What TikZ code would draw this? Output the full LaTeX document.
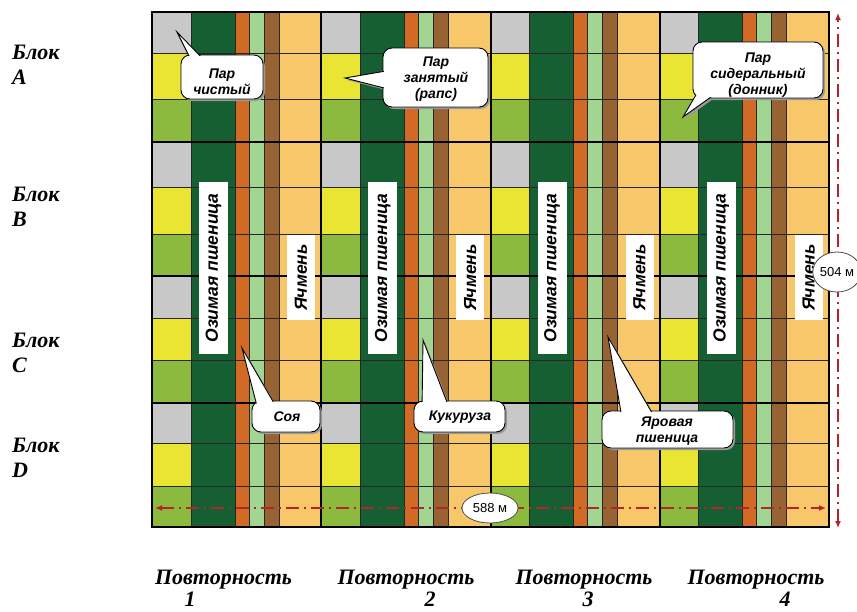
\documentclass[tikz,border=0pt]{standalone}
\usepackage{fontspec}
\setmainfont{Liberation Serif}
\setsansfont{Liberation Sans}
\usetikzlibrary{arrows.meta,shapes.geometric}
\definecolor{cgray}{HTML}{C8C8C8}
\definecolor{cyellow}{HTML}{EAE533}
\definecolor{cygreen}{HTML}{8CBA3E}
\definecolor{cdgreen}{HTML}{155F32}
\definecolor{corange}{HTML}{D06A24}
\definecolor{clgreen}{HTML}{A3D592}
\definecolor{cbrown}{HTML}{986332}
\definecolor{clorange}{HTML}{F8C76A}
\definecolor{dimred}{HTML}{B3242C}
\definecolor{shadowc}{HTML}{9A9A9A}
\tikzset{
 gridthin/.style={draw=black!85, line width=0.9pt},
 gridthick/.style={draw=black, line width=2pt},
 collabel/.style={rotate=90, fill=white, inner sep=0pt, font=\fontsize{17.5}{17.5}\selectfont\sffamily\bfseries\itshape},
 bubblebox/.style={draw=black, line width=0.9pt, fill=white, rounded corners=9pt, inner sep=0pt},
 bubline/.style={draw=black, line width=0.9pt},
 btext/.style={align=center, inner sep=0pt, font=\fontsize{14}{16}\selectfont\sffamily\bfseries\itshape},
 blk/.style={anchor=base west, inner sep=0pt, font=\fontsize{22}{22}\selectfont\bfseries\itshape},
 replab/.style={anchor=base, inner sep=0pt, font=\fontsize{22}{22}\selectfont\bfseries\itshape},
 dimline/.style={draw=dimred, line width=1.8pt, dash pattern=on 13pt off 5pt on 2pt off 5pt},
 dimlabel/.style={ellipse, draw=black!70, line width=0.8pt, fill=white, inner sep=0pt, font=\fontsize{13}{13}\selectfont\sffamily},
}
% #1 name, #2 x1, #3 y1, #4 x2, #5 y2, #6 tip, #7 base1, #8 base2
\newcommand{\callout}[8]{%
  \coordinate (#1tip) at (#6);
  \coordinate (#1ba) at (#7);
  \coordinate (#1bb) at (#8);
  \fill[shadowc, rounded corners=9pt] ({#2+2},{#3+2}) rectangle ({#4+2},{#5+2});
  \fill[shadowc] ([xshift=2pt,yshift=-2pt]#1tip) -- ([xshift=2pt,yshift=-2pt]#1ba) -- ([xshift=2pt,yshift=-2pt]#1bb) -- cycle;
  \node[bubblebox, minimum width={(#4-#2)*1pt}, minimum height={(#5-#3)*1pt}] (#1) at ({(#2+#4)/2},{(#3+#5)/2}) {};
  \fill[white] (#1ba) -- (#1tip) -- (#1bb) -- cycle;
  \draw[bubline] (#1ba) -- (#1tip) -- (#1bb);
  \fill[white, rounded corners=8pt] ({#2+1},{#3+1}) rectangle ({#4-1},{#5-1});
}
\begin{document}
\begin{tikzpicture}[x=1pt,y=-1pt]
\useasboundingbox (0,0) rectangle (857,611);
\fill[white] (0,0) rectangle (857,611);
% field grid
\foreach \r in {152,321.25,490.5,659.75}{
  \foreach \ya/\yb/\yc/\yd in {12/53/99/142,142/187/234/276,276/318/360/403,403/443/486/527}{
    \fill[cgray] (\r,\ya) rectangle ({\r+39},\yb);
    \fill[cyellow] (\r,\yb) rectangle ({\r+39},\yc);
    \fill[cygreen] (\r,\yc) rectangle ({\r+39},\yd);
  }
  \fill[cdgreen] ({\r+39},12) rectangle ({\r+83},527);
  \fill[corange] ({\r+83},12) rectangle ({\r+97},527);
  \fill[clgreen] ({\r+97},12) rectangle ({\r+112},527);
  \fill[cbrown] ({\r+112},12) rectangle ({\r+127},527);
  \fill[clorange] ({\r+127},12) rectangle ({\r+169.25},527);
  \foreach \c in {39,83,97,112,127}{\draw[gridthin] ({\r+\c},12) -- ({\r+\c},527);}
}
\foreach \y in {53,99,187,234,318,360,443,486}{\draw[gridthin] (152,\y) -- (829,\y);}
\foreach \y in {142,276,403}{\draw[gridthick] (152,\y) -- (829,\y);}
\foreach \x in {321.25,490.5,659.75}{\draw[gridthick] (\x,12) -- (\x,527);}
\draw[gridthick, line width=2.2pt] (152,12) rectangle (829,527);
% crop labels
\foreach \r/\n in {152/1,321.25/2,490.5/3,659.75/4}{
  \node[collabel, minimum width=172pt, minimum height=29pt] (oz\n) at ({\r+61.5},268) {Озимая пшеница};
  \node[collabel, minimum width=85pt, minimum height=28pt] (ya\n) at ({\r+149},277.5) {Ячмень};
}
% dimensions
\coordinate (vtop) at (838,13);
\coordinate (vbot) at (838,528);
\draw[dimline, {Latex[length=7pt,width=6pt]}-{Latex[length=7pt,width=6pt]}] (vbot) -- (vtop);
\node[dimlabel, minimum width=40pt, minimum height=40pt] (d504) at (837,272) {504 м};
\coordinate (hl) at (155,508);
\coordinate (hr) at (826,508);
\draw[dimline, {Latex[length=7pt,width=6pt]}-{Latex[length=7pt,width=6pt]}] (hl) -- (hr);
\node[dimlabel, minimum width=56pt, minimum height=30pt] (d588) at (490,508) {588 м};
% callouts
\callout{b1}{181}{55}{263}{99}{177,32}{192,62}{206,62}
\node[btext] (b1t) at (222,82) {Пар\\чистый};
\callout{b2}{383}{48}{488}{107}{345,78}{392,70}{392,90}
\node[btext] (b2t) at (436,79) {Пар\\занятый\\(рапс)};
\callout{b3}{693}{42}{823}{98}{683,117}{700,88}{718,92}
\node[btext] (b3t) at (758,75) {Пар\\сидеральный\\(донник)};
\callout{b4}{252}{401}{320}{432}{242,348}{258,410}{278,410}
\node[btext] (b4t) at (287,417) {Соя};
\callout{b5}{414}{401}{505}{432}{423,340}{422,410}{450,410}
\node[btext] (b5t) at (460,417) {Кукуруза};
\callout{b6}{602}{411}{733}{448}{608,337}{622,418}{655,418}
\node[btext] (b6t) at (667,431) {Яровая\\пшеница};
% block labels
\node[blk] (lA1) at (12,59) {Блок};
\node[blk] (lA2) at (12,84) {A};
\node[blk] (lB1) at (12,201) {Блок};
\node[blk] (lB2) at (12,226) {B};
\node[blk] (lC1) at (12,347) {Блок};
\node[blk] (lC2) at (12,372) {C};
\node[blk] (lD1) at (12,452) {Блок};
\node[blk] (lD2) at (12,477) {D};
% repetition labels
\node[replab] (r1) at (223.5,584) {Повторность};
\node[replab] (r1n) at (190,606) {1};
\node[replab] (r2) at (406,584) {Повторность};
\node[replab] (r2n) at (430,606) {2};
\node[replab] (r3) at (584,584) {Повторность};
\node[replab] (r3n) at (588,606) {3};
\node[replab] (r4) at (756,584) {Повторность};
\node[replab] (r4n) at (785,606) {4};
\end{tikzpicture}
\end{document}
